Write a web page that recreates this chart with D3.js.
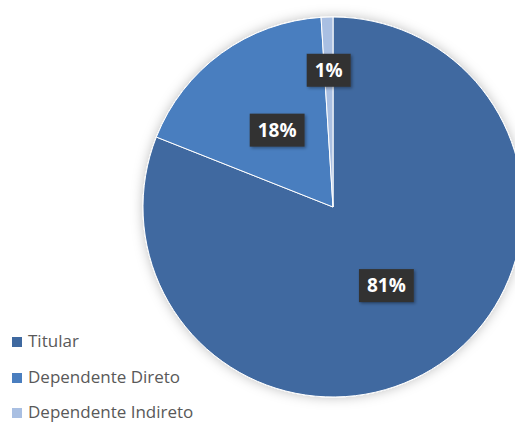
<!DOCTYPE html>
<html><head><meta charset="utf-8">
<script src="https://cdn.jsdelivr.net/npm/d3@7"></script>
<style>html,body{margin:0;padding:0;background:#fff;overflow:hidden}</style>
</head><body>
<svg id="c" width="515" height="423"></svg>
<script>
const categories = ["Titular", "Dependente Direto", "Dependente Indireto"];
const values = [81, 18, 1];
const labels = ["81%", "18%", "1%"];
const colors = ["#3F69A0", "#4A7EBF", "#A9BFE2"];

const svg = d3.select("#c");
const defs = svg.append("defs");
const f = defs.append("filter").attr("id","sh").attr("x","-20%").attr("y","-20%").attr("width","140%").attr("height","140%");
f.append("feDropShadow").attr("dx",0).attr("dy",0).attr("stdDeviation",6).attr("flood-color","#000").attr("flood-opacity",0.25);
const f2 = defs.append("filter").attr("id","lsh").attr("x","-30%").attr("y","-30%").attr("width","160%").attr("height","160%");
f2.append("feDropShadow").attr("dx",1.5).attr("dy",1.5).attr("stdDeviation",1.5).attr("flood-color","#000").attr("flood-opacity",0.35);

const cx = 333, cy = 207, r = 190;
const pie = d3.pie().sort(null).value(d => d)(values);
const arc = d3.arc().innerRadius(0).outerRadius(r);
const g = svg.append("g").attr("transform", `translate(${cx},${cy})`);
const sg = g.append("g").attr("filter","url(#sh)");
sg.selectAll("path").data(pie).join("path")
  .attr("d", arc).attr("fill", (d,i) => colors[i])
  .attr("stroke", "#fff").attr("stroke-width", 1);

const labelR = [0.5, 0.5, 0.72];
const lg = g.selectAll("g.lab").data(pie).join("g").attr("class","lab")
  .attr("transform", (d,i) => {
    const a = (d.startAngle + d.endAngle)/2;
    const rr = r*labelR[i];
    return `translate(${Math.sin(a)*rr},${-Math.cos(a)*rr})`;
  });
lg.each(function(d,i){
  const s = d3.select(this);
  const t = s.append("text").text(labels[i])
    .attr("text-anchor","middle").attr("dy","0.36em")
    .attr("font-family","Open Sans, sans-serif").attr("font-weight","bold")
    .attr("font-size", 19).attr("fill","#fff");
  const bb = t.node().getBBox();
  s.insert("rect","text").attr("x", bb.x-8).attr("y", -16.5).attr("width", bb.width+16).attr("height", 33)
    .attr("fill","#333333").attr("filter","url(#lsh)");
});

const leg = svg.append("g").attr("transform","translate(12,0)");
const legBase = [347, 383, 418];
categories.forEach((c,i) => {
  leg.append("rect").attr("x",0).attr("y",legBase[i]-10).attr("width",10).attr("height",10).attr("fill",colors[i]);
  leg.append("text").attr("x",16).attr("y",legBase[i])
    .attr("font-family","Open Sans, sans-serif").attr("font-size",17).attr("fill","#595959").text(c);
});
</script>
</body></html>
